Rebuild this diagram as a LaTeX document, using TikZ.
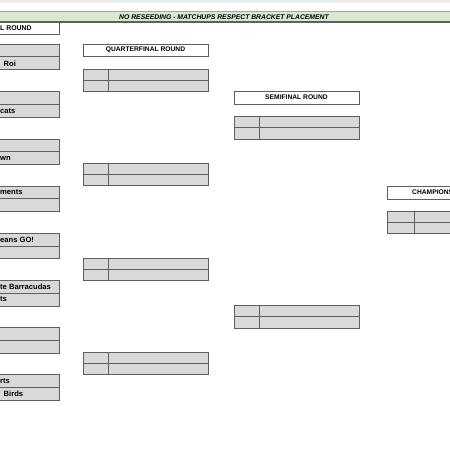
\documentclass[tikz,border=0pt]{standalone}
\usepackage{fontspec}
\setmainfont{Liberation Sans}
\definecolor{cellgray}{HTML}{D9D9D9}
\definecolor{linegray}{HTML}{5F5F5F}
\definecolor{bannergreen}{HTML}{D8E9D0}
\definecolor{stripgray}{HTML}{EDEDED}
\begin{document}
\begin{tikzpicture}[x=1pt,y=-1pt,
  cell/.style={fill=cellgray,draw=linegray,line width=0.9pt},
  hdr/.style={fill=white,draw=linegray,line width=0.9pt},
  ttxt/.style={font=\fontsize{7.6}{8}\selectfont\bfseries,inner sep=0pt,anchor=west},
  htxt/.style={font=\fontsize{6.7}{8}\selectfont\bfseries,inner sep=0pt}]
\useasboundingbox (0,0) rectangle (450,450);
\clip (0,0) rectangle (450,450);
\fill[white] (0,0) rectangle (450,450);
% top strip
\fill[stripgray] (0,0) rectangle (450,2.5);
% banner
\fill[bannergreen] (0,11) rectangle (450,22);
\draw[gray!70,line width=0.6pt] (0,11) -- (450,11);
\draw[linegray,line width=1.2pt] (0,22) -- (450,22);
\node[font=\fontsize{6.8}{8}\selectfont\bfseries\itshape,inner sep=0pt] (banner) at (224,16.8) {NO RESEEDING - MATCHUPS RESPECT BRACKET PLACEMENT};
% first round header
\draw[hdr] (-2,22.5) rectangle (59,34);
\node[ttxt,font=\fontsize{6.9}{8}\selectfont\bfseries] (frh) at (0,28.5) {L ROUND};
% first round pairs
\foreach \t [count=\i] in {44,91.8,139,186,233.3,280.5,327.5,374.5}{
  \draw[cell] (-2,\t) rectangle (59,\t+25.5);
  \draw[linegray,line width=0.9pt] (-2,\t+12.75) -- (59,\t+12.75);
}
\node[ttxt] (t1b) at (3.5,63.8) {Roi};
\node[ttxt] (t2b) at (0,111) {cats};
\node[ttxt] (t3b) at (0,158) {wn};
\node[ttxt] (t4a) at (0,192.5) {ments};
\node[ttxt] (t5a) at (0,239.6) {eans GO!};
\node[ttxt] (t6a) at (0,286.8) {te Barracudas};
\node[ttxt] (t6b) at (0,299.5) {ts};
\node[ttxt] (t8a) at (0,380.8) {rts};
\node[ttxt] (t8b) at (3.5,393.6) {Birds};
% quarterfinal
\draw[hdr] (83,44) rectangle (208,56);
\node[htxt] (qfh) at (145.5,50.2) {QUARTERFINAL ROUND};
\foreach \t in {69,163.5,258,352}{
  \draw[cell] (83,\t) rectangle (208,\t+22);
  \draw[linegray,line width=0.9pt] (83,\t+11) -- (208,\t+11);
  \draw[linegray,line width=0.9pt] (108,\t) -- (108,\t+22);
}
% semifinal
\draw[hdr] (234,91) rectangle (359,104);
\node[htxt] (sfh) at (296.5,97.6) {SEMIFINAL ROUND};
\foreach \t in {116.5,305.5}{
  \draw[cell] (234,\t) rectangle (359,\t+22.5);
  \draw[linegray,line width=0.9pt] (234,\t+11.2) -- (359,\t+11.2);
  \draw[linegray,line width=0.9pt] (259,\t) -- (259,\t+22.5);
}
% championship
\draw[hdr] (387,186) rectangle (460,199);
\node[htxt,anchor=west] (chh) at (412,192.6) {CHAMPIONS};
\draw[cell] (387,211) rectangle (460,233.5);
\draw[linegray,line width=0.9pt] (387,222.2) -- (460,222.2);
\draw[linegray,line width=0.9pt] (414,211) -- (414,233.5);
\end{tikzpicture}
\end{document}
